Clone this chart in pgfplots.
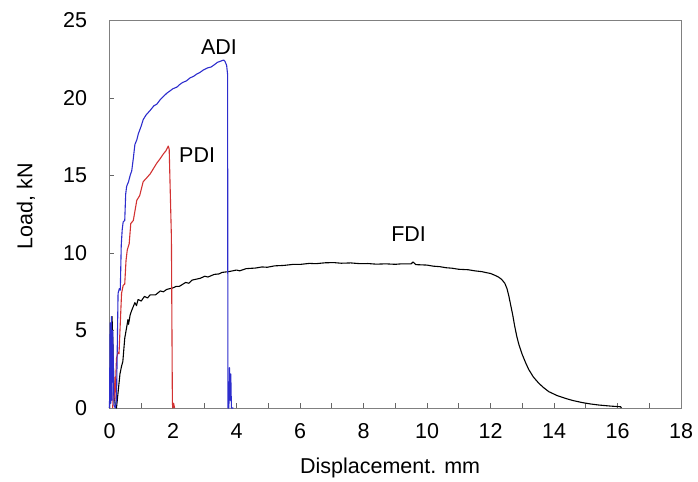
\documentclass[border=0pt]{standalone}
\usepackage{pgfplots}
\pgfplotsset{compat=1.18}
\usepackage{fontspec}
\setmainfont{Liberation Sans}
\definecolor{adiblue}{RGB}{45,45,205}
\definecolor{pdired}{RGB}{210,50,50}
\begin{document}
\begin{tikzpicture}
\begin{axis}[name=ax, scale only axis, width=571.5bp, height=387.5bp,
  xmin=0, xmax=18, ymin=0, ymax=25,
  xtick={0,2,...,18}, minor xtick={1,3,...,17}, ytick={0,5,...,25},
  tick align=inside, xtick pos=bottom, ytick pos=left,
  major tick length=5bp, minor tick length=5bp,
  axis line style={draw=gray, line width=0.9bp},
  every tick/.style={draw=gray!80!black, line width=0.9bp},
  tick label style={font=\fontsize{21.5bp}{25bp}\selectfont},
  /pgf/number format/assume math mode=true,
  xticklabel style={yshift=-12bp}, yticklabel style={xshift=-19bp},
  xlabel={Displacement. mm}, ylabel={Load, kN},
  label style={font=\fontsize{21.5bp}{25bp}\selectfont},
  xlabel style={at={(axis description cs:0.491,-0.155)}, anchor=center},
  ylabel style={at={(axis description cs:-0.146,0.521)}, anchor=center},
  clip=false,
]
% FDI
\addplot[black, line width=1.1bp, line join=round] coordinates {
(0.0,0) (0.05,2.0) (0.08,5.9) (0.11,4.0) (0.14,1.0) (0.18,0.2) (0.22,0)
(0.27,1.0) (0.33,2.2) (0.38,2.7) (0.42,3.0) (0.48,4.5) (0.54,5.2) (0.58,5.7)
(0.60,5.4) (0.65,6.0) (0.70,6.3) (0.74,6.5) (0.80,6.8) (0.85,6.6) (0.90,7.0)
(1.0,6.9) (1.1,7.2) (1.2,7.1) (1.28,7.3) (1.45,7.3) (1.6,7.55) (1.7,7.5)
(1.8,7.65) (2.0,7.75) (2.1,7.85) (2.2,7.85) (2.4,8.1) (2.5,8.05) (2.6,8.25)
(2.86,8.37) (3.0,8.5) (3.1,8.45) (3.3,8.62) (3.45,8.65) (3.55,8.75)
(3.76,8.8) (4.0,8.9) (4.1,8.85) (4.3,8.99) (4.6,9.03) (4.8,9.1) (4.97,9.08)
(5.2,9.17) (5.5,9.2) (5.8,9.27) (6.03,9.27) (6.3,9.33) (6.5,9.31)
(6.8,9.37) (7.07,9.38) (7.3,9.34) (7.6,9.36) (7.9,9.31) (8.14,9.32)
(8.4,9.28) (8.7,9.3) (9.0,9.27) (9.19,9.3) (9.5,9.3) (9.56,9.42) (9.65,9.25)
(10.0,9.22) (10.2,9.15) (10.4,9.12) (10.6,9.05) (10.78,9.02) (11.0,8.95)
(11.3,8.92) (11.5,8.85) (11.72,8.8) (11.9,8.72) (12.0,8.68) (12.15,8.55)
(12.25,8.45) (12.35,8.3) (12.45,8.05) (12.52,7.7) (12.58,7.2) (12.64,6.6)
(12.7,6.0) (12.76,5.3) (12.83,4.6) (12.9,4.05) (12.99,3.5) (13.1,2.95)
(13.2,2.5) (13.35,2.0) (13.52,1.6) (13.68,1.3) (13.84,1.05) (14.1,0.8)
(14.36,0.62) (14.6,0.48) (14.89,0.35) (15.15,0.26) (15.42,0.19)
(15.8,0.12) (16.1,0.08) (16.12,0)
};
% PDI
\addplot[pdired, line width=1.1bp, line join=round] coordinates {
(0.10,0) (0.14,2.0) (0.17,0.5) (0.22,3.2) (0.27,3.6) (0.30,3.5) (0.33,5.0)
(0.38,7.4) (0.43,7.9) (0.48,8.0) (0.52,9.5) (0.56,10.2) (0.62,10.6)
(0.67,11.9) (0.75,12.1) (0.86,13.4) (0.95,13.7) (1.06,14.6) (1.15,14.8)
(1.28,15.1) (1.4,15.5) (1.49,15.8) (1.6,16.1) (1.7,16.4) (1.78,16.6)
(1.85,16.9) (1.88,16.7) (1.95,11.0) (1.98,0.5) (1.99,0) (2.02,0.3) (2.05,0)
};
% ADI
\addplot[adiblue, line width=1.1bp, line join=round] coordinates {
(0.0,0) (0.02,5.5) (0.04,0.3) (0.06,5.9) (0.08,0.5) (0.10,5.0) (0.12,3.0)
(0.14,0.2) (0.18,0) (0.22,0.5) (0.27,7.4) (0.31,7.7) (0.34,7.6) (0.37,10.5)
(0.40,11.5) (0.43,12.0) (0.48,12.1) (0.51,13.8) (0.54,14.3) (0.60,14.6)
(0.65,15.0) (0.70,15.3) (0.75,16.1) (0.80,17.0) (0.86,17.3) (0.91,17.7)
(1.0,18.2) (1.06,18.6) (1.15,18.9) (1.28,19.2) (1.4,19.5) (1.49,19.6)
(1.6,19.9) (1.7,20.1) (1.8,20.3) (1.9,20.45) (2.0,20.6) (2.12,20.7)
(2.2,20.85) (2.3,21.0) (2.42,21.1) (2.54,21.3) (2.65,21.4) (2.75,21.55)
(2.85,21.65) (2.95,21.8) (3.1,21.95) (3.2,22.0) (3.27,22.1) (3.4,22.3)
(3.53,22.4) (3.6,22.45) (3.64,22.35) (3.69,22.1) (3.72,21.5) (3.73,0)
(3.76,0) (3.78,2.6) (3.80,0.5) (3.82,2.2) (3.84,0) (3.9,0)
};
\node[font=\fontsize{21.5bp}{25bp}\selectfont] at (axis cs:3.45,23.3) {ADI};
\node[font=\fontsize{21.5bp}{25bp}\selectfont] at (axis cs:2.76,16.3) {PDI};
\node[font=\fontsize{21.5bp}{25bp}\selectfont] at (axis cs:9.42,11.2) {FDI};
\end{axis}
\pgfresetboundingbox
\path (ax.south west) ++(-109.5bp,-74bp) rectangle ++(698bp,482bp);
\end{tikzpicture}
\end{document}
